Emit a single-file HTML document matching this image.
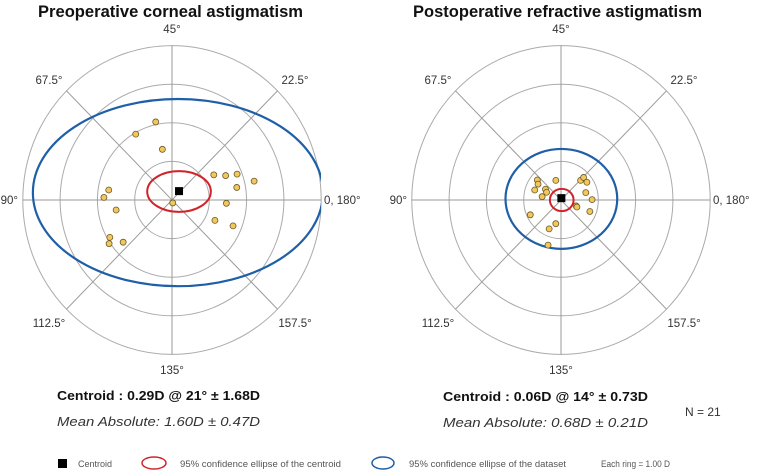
<!DOCTYPE html>
<html><head><meta charset="utf-8"><style>
html,body{margin:0;padding:0;background:#fff;}
svg{display:block;font-family:"Liberation Sans",sans-serif;}
</style></head><body>
<svg id="chart" width="778" height="473" viewBox="0 0 778 473">
<text x="38" y="17" font-size="17" font-weight="bold" fill="#111" textLength="265" lengthAdjust="spacingAndGlyphs">Preoperative corneal astigmatism</text>
<text x="413" y="17" font-size="17" font-weight="bold" fill="#111" textLength="289" lengthAdjust="spacingAndGlyphs">Postoperative refractive astigmatism</text>
<g id="plots"></g>
<g font-size="12.5" font-weight="bold" fill="#111">
<text x="57" y="400" textLength="203" lengthAdjust="spacingAndGlyphs">Centroid :  0.29D @ 21°  ± 1.68D</text>
<text x="443" y="401" textLength="205" lengthAdjust="spacingAndGlyphs">Centroid :  0.06D @ 14°  ± 0.73D</text>
</g>
<g font-size="12.5" font-style="italic" fill="#333">
<text x="57" y="426" textLength="203" lengthAdjust="spacingAndGlyphs">Mean Absolute:     1.60D  ±  0.47D</text>
<text x="443" y="427" textLength="205" lengthAdjust="spacingAndGlyphs">Mean Absolute:     0.68D  ± 0.21D</text>
</g>
<text x="685" y="416" font-size="12" fill="#333">N = 21</text>
<g font-size="9" fill="#555">
<rect x="58" y="459" width="9" height="9" fill="#000"/>
<text x="78" y="467">Centroid</text>
<ellipse cx="154" cy="463" rx="12" ry="6" fill="none" stroke="#d2232a" stroke-width="1.5"/>
<text x="180" y="467" textLength="161" lengthAdjust="spacingAndGlyphs">95% confidence ellipse of  the centroid</text>
<ellipse cx="383" cy="463" rx="11" ry="6" fill="none" stroke="#1f5fa8" stroke-width="1.5"/>
<text x="409" y="467" textLength="157" lengthAdjust="spacingAndGlyphs">95% confidence ellipse of the dataset</text>
<text x="601" y="467" textLength="69" lengthAdjust="spacingAndGlyphs">Each ring = 1.00 D</text>
</g>
</svg>
<script>
const ringCount = 4;
const angleLabels = ["0, 180°","22.5°","45°","67.5°","90°","112.5°","135°","157.5°"];
const preX = [-0.44,-0.98,-0.26,1.13,1.45,1.76,2.22,1.75,1.47,1.16,1.65,0.02,-1.71,-1.84,-1.51,-1.68,-1.70,-1.32];
const preY = [2.11,1.78,1.37,0.68,0.66,0.70,0.51,0.34,-0.09,-0.55,-0.70,-0.08,0.27,0.07,-0.27,-1.01,-1.18,-1.14];
const postX = [-0.64,-0.62,-0.71,-0.42,-0.39,-0.51,-0.14,0.53,0.61,0.70,0.67,0.84,0.41,0.43,0.78,-0.83,-0.14,-0.32,-0.35];
const postY = [0.54,0.43,0.27,0.29,0.21,0.09,0.53,0.53,0.61,0.48,0.20,0.01,-0.16,-0.19,-0.31,-0.40,-0.64,-0.78,-1.22];
const preCentroid = [0.19,0.24];
const postCentroid = [0.01,0.05];
const preCentroidEllipse = [0.19,0.23,0.86,0.55];
const postCentroidEllipse = [0.02,0.0,0.32,0.30];
const preDataEllipse = [0.16,0.20,3.92,2.53];
const postDataEllipse = [0.01,0.03,1.51,1.35];

const NS = "http://www.w3.org/2000/svg";
const R = 37;
const RX = 37.3, RY = 38.6;
function mk(tag, attrs, parent){const e=document.createElementNS(NS,tag);for(const k in attrs)e.setAttribute(k,attrs[k]);parent.appendChild(e);return e;}
const plots = document.getElementById('plots');
function drawPlot(cx, cy, xs, ys, cen, cEll, dEll, name){
  const g = mk('g',{},plots);
  
  
  const sx = v => cx + v*R, sy = v => cy - v*R;
  const clipId = name+'-clip';
  const cp = mk('clipPath',{id:clipId},g);
  mk('rect',{x:cx-160,y:cy-165,width:149+160,height:330},cp);
  for(let i=1;i<=ringCount;i++){
    const c = mk('ellipse',{cx:cx,cy:cy,rx:i*RX,ry:i*RY,fill:'none',stroke:'#aaa','stroke-width':1},g);
    
    
  }
  for(let k=0;k<4;k++){
    const a = k*Math.PI/4, LX = ringCount*RX, LY = ringCount*RY;
    const l = mk('line',{x1:cx-LX*Math.cos(a),y1:cy+LY*Math.sin(a),x2:cx+LX*Math.cos(a),y2:cy-LY*Math.sin(a),stroke:'#999','stroke-width':1},g);
    
    
  }
  angleLabels.forEach((t,i)=>{
    const a = i*Math.PI/4;
    let x = cx + 174*Math.cos(a), y = cy - 170*Math.sin(a) + 4;
    let anchor='middle';
    if(i===0){x = cx + 152; anchor='start'; y = cy + 4;}
    if(i===4){x = cx - 154; anchor='end'; y = cy + 4;}
    if(i===2){y = cy - 167;}
    if(i===6){y = cy + 174;}
    if(i===5||i===7){y = cy + 127;}
    const tx = mk('text',{x:x,y:y,'font-size':11.5,fill:'#333','text-anchor':anchor},g);
    tx.textContent = t;
    
    
  });
  const de = mk('ellipse',{cx:sx(dEll[0]),cy:sy(dEll[1]),rx:dEll[2]*R,ry:dEll[3]*R,fill:'none',stroke:'#1f5fa8','stroke-width':2.2,'clip-path':'url(#'+clipId+')'},g);
  
  
  xs.forEach((v,i)=>{
    const d = mk('circle',{cx:sx(v),cy:sy(ys[i]),r:3,fill:'#f2c75c',stroke:'#6b5a2a','stroke-width':0.8},g);
    
    
  });
  const ce = mk('ellipse',{cx:sx(cEll[0]),cy:sy(cEll[1]),rx:cEll[2]*R,ry:cEll[3]*R,fill:'none',stroke:'#d2232a','stroke-width':2},g);
  
  
  const sq = mk('rect',{x:sx(cen[0])-4,y:sy(cen[1])-4,width:8,height:8,fill:'#000'},g);
  
  
}
drawPlot(172,200,preX,preY,preCentroid,preCentroidEllipse,preDataEllipse,'preoperative-plot');
drawPlot(561,200,postX,postY,postCentroid,postCentroidEllipse,postDataEllipse,'postoperative-plot');
</script>
</body></html>
